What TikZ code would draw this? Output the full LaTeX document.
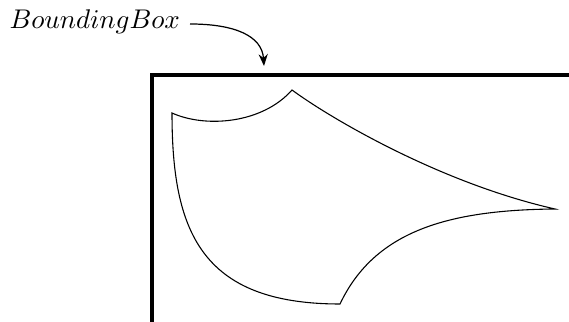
\documentclass[tikz,border=0pt]{standalone}
\usetikzlibrary{arrows.meta}
\begin{document}
\begin{tikzpicture}[x=0.37pt,y=-0.37pt,
  frame/.style={line width=1.15pt},
  outline/.style={line width=0.4pt},
  pointer/.style={line width=0.45pt,-{Stealth[length=4.4pt,width=3.4pt]}}]
\useasboundingbox (0,0) rectangle (569,322);
\node[anchor=base west,inner sep=0pt] (t) at (9,29) {$BoundingBox$};
\coordinate (s) at (190,24);
\coordinate (e) at (264,66);
\draw[pointer] (s) .. controls (235,24) and (262,36) .. (e);
\coordinate (bl) at (152,330);
\coordinate (tl) at (152,75);
\coordinate (tr) at (580,75);
\draw[frame] (bl) -- (tl) -- (tr);
\coordinate (A) at (172,113);
\coordinate (B) at (292,90);
\coordinate (C) at (555,209);
\coordinate (D) at (340,304);
\draw[outline,line join=miter] (A) .. controls (205,128) and (262,124) .. (B)
  .. controls (330,118) and (440,183) .. (C)
  .. controls (450,210) and (375,230) .. (D)
  .. controls (200,304) and (172,230) .. (A) -- cycle;
\end{tikzpicture}
\end{document}
